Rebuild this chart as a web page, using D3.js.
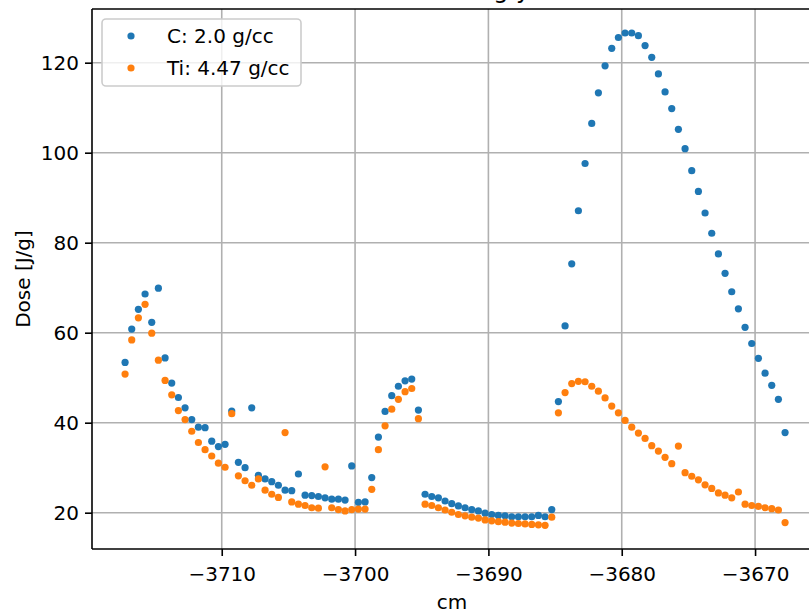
<!DOCTYPE html>
<html>
<head>
<meta charset="utf-8">
<script src="https://cdn.jsdelivr.net/npm/d3@7"></script>
<style>
  html, body { margin: 0; padding: 0; background: #fff; }
  svg { display: block; font-family: "DejaVu Sans", sans-serif; }
</style>
</head>
<body>
<svg id="chart" width="809" height="612"></svg>
<script>
// ---- data ----
const positions = [
  -3717.25,-3716.75,-3716.25,-3715.75,-3715.25,-3714.75,-3714.25,-3713.75,-3713.25,-3712.75,
  -3712.25,-3711.75,-3711.25,-3710.75,-3710.25,-3709.75,-3709.25,-3708.75,-3708.25,-3707.75,
  -3707.25,-3706.75,-3706.25,-3705.75,-3705.25,-3704.75,-3704.25,-3703.75,-3703.25,-3702.75,
  -3702.25,-3701.75,-3701.25,-3700.75,-3700.25,-3699.75,-3699.25,-3698.75,-3698.25,-3697.75,
  -3697.25,-3696.75,-3696.25,-3695.75,-3695.25,-3694.75,-3694.25,-3693.75,-3693.25,-3692.75,
  -3692.25,-3691.75,-3691.25,-3690.75,-3690.25,-3689.75,-3689.25,-3688.75,-3688.25,-3687.75,
  -3687.25,-3686.75,-3686.25,-3685.75,-3685.25,-3684.75,-3684.25,-3683.75,-3683.25,-3682.75,
  -3682.25,-3681.75,-3681.25,-3680.75,-3680.25,-3679.75,-3679.25,-3678.75,-3678.25,-3677.75,
  -3677.25,-3676.75,-3676.25,-3675.75,-3675.25,-3674.75,-3674.25,-3673.75,-3673.25,-3672.75,
  -3672.25,-3671.75,-3671.25,-3670.75,-3670.25,-3669.75,-3669.25,-3668.75,-3668.25,-3667.75
];
const doseC = [
  53.4,60.8,65.2,68.6,62.3,69.9,54.4,48.8,45.6,43.3,
  40.7,39.0,38.9,35.9,34.7,35.2,42.6,31.2,30.0,43.3,
  28.3,27.5,26.9,26.1,25.0,24.9,28.6,23.9,23.8,23.6,
  23.3,23.0,23.0,22.8,30.4,22.3,22.4,27.8,36.8,42.5,
  46.0,48.1,49.3,49.7,42.8,24.1,23.6,23.3,22.6,22.0,
  21.5,21.1,20.7,20.4,19.9,19.6,19.4,19.3,19.1,19.1,
  19.1,19.1,19.4,19.1,20.7,44.7,61.5,75.3,87.1,97.6,
  106.5,113.3,119.3,123.2,125.6,126.6,126.6,126.0,123.8,121.2,
  117.5,113.5,109.8,105.2,100.9,96.0,91.4,86.6,82.1,77.5,
  73.2,69.1,65.3,61.2,57.6,54.3,51.0,48.3,45.2,37.8
];
const doseTi = [
  50.8,58.4,63.3,66.3,59.9,53.9,49.4,46.2,42.7,40.7,
  38.1,35.6,34.0,32.6,31.0,30.1,42.0,28.2,27.1,26.1,
  27.5,25.0,24.1,23.4,37.8,22.4,21.9,21.6,21.1,21.0,
  30.2,21.1,20.7,20.4,20.7,20.8,20.8,25.2,34.0,39.3,
  43.0,45.2,46.9,47.6,40.9,21.9,21.6,21.1,20.6,20.1,
  19.6,19.3,19.0,18.8,18.4,18.2,18.0,17.9,17.7,17.6,
  17.5,17.4,17.3,17.2,19.0,42.2,46.7,48.7,49.2,49.1,
  48.1,47.0,45.5,43.7,42.2,40.5,39.0,37.7,36.5,34.9,
  33.7,32.3,30.9,34.8,28.9,28.1,27.3,26.2,25.4,24.4,
  23.9,23.3,24.6,21.9,21.6,21.4,21.1,20.9,20.6,17.8
];
const seriesNames = ["C: 2.0 g/cc", "Ti: 4.47 g/cc"];
const seriesColors = ["#1f77b4", "#ff7f0e"];
const xTicks = [-3710, -3700, -3690, -3680, -3670];
const yTicks = [20, 40, 60, 80, 100, 120];
const xDomain = [-3719.73, -3665.73];
const yDomain = [11.93, 131.93];
const titleText = "Dose along y";
const xLabel = "cm";
const yLabel = "Dose [J/g]";

// ---- layout ----
const plot = { left: 92, right: 812, top: 9, bottom: 549 };
const svg = d3.select("#chart");
const x = d3.scaleLinear().domain(xDomain).range([plot.left, plot.right]);
const y = d3.scaleLinear().domain(yDomain).range([plot.bottom, plot.top]);
const fontSize = 20;
const lw = 1.6;

// clip for data area
svg.append("defs").append("clipPath").attr("id", "clip")
  .append("rect").attr("x", plot.left).attr("y", plot.top)
  .attr("width", plot.right - plot.left).attr("height", plot.bottom - plot.top);

// grid
const grid = svg.append("g");
grid.selectAll("line.gx").data(xTicks).join("line")
  .attr("x1", d => x(d)).attr("x2", d => x(d))
  .attr("y1", plot.top).attr("y2", plot.bottom)
  .attr("stroke", "#b0b0b0").attr("stroke-width", lw);
grid.selectAll("line.gy").data(yTicks).join("line")
  .attr("y1", d => y(d)).attr("y2", d => y(d))
  .attr("x1", plot.left).attr("x2", plot.right)
  .attr("stroke", "#b0b0b0").attr("stroke-width", lw);

// points
const dataSets = [doseC, doseTi];
dataSets.forEach((vals, si) => {
  svg.append("g").attr("clip-path", "url(#clip)")
    .selectAll("circle").data(vals).join("circle")
    .attr("cx", (d, i) => x(positions[i]))
    .attr("cy", d => y(d))
    .attr("r", 3.6)
    .attr("fill", seriesColors[si]);
});

// axes
const xAxis = d3.axisBottom(x).tickValues(xTicks).tickSizeInner(7).tickSizeOuter(0).tickPadding(7)
  .tickFormat(d => d3.format("d")(d).replace("-", "\u2212"));
const gx = svg.append("g").attr("transform", `translate(0,${plot.bottom})`).call(xAxis);
gx.select(".domain").remove();
gx.selectAll(".tick line").attr("stroke", "#000").attr("stroke-width", lw);
gx.selectAll(".tick text").attr("font-size", fontSize).attr("fill", "#000")
  .attr("font-family", "DejaVu Sans").attr("dy", null).attr("y", 32);

const yAxis = d3.axisLeft(y).tickValues(yTicks).tickSizeInner(7).tickSizeOuter(0).tickPadding(7);
const gy = svg.append("g").attr("transform", `translate(${plot.left},0)`).call(yAxis);
gy.select(".domain").remove();
gy.selectAll(".tick line").attr("stroke", "#000").attr("stroke-width", lw);
gy.selectAll(".tick text").attr("font-size", fontSize).attr("fill", "#000")
  .attr("font-family", "DejaVu Sans").attr("dy", "0.36em").attr("x", -13);

// spines
const sp = svg.append("g").attr("stroke", "#000").attr("stroke-width", lw).attr("fill", "none");
sp.append("line").attr("x1", plot.left).attr("x2", plot.left).attr("y1", plot.top).attr("y2", plot.bottom);
sp.append("line").attr("x1", plot.left).attr("x2", plot.right).attr("y1", plot.bottom).attr("y2", plot.bottom);
sp.append("line").attr("x1", plot.left).attr("x2", plot.right).attr("y1", plot.top).attr("y2", plot.top);
sp.append("line").attr("x1", plot.right).attr("x2", plot.right).attr("y1", plot.top).attr("y2", plot.bottom);

// labels
const cx = (plot.left + plot.right) / 2;
svg.append("text").attr("x", cx).attr("y", 609).attr("text-anchor", "middle")
  .attr("font-size", fontSize).attr("fill", "#000").text(xLabel);
svg.append("text").attr("transform", `translate(30,${(plot.top + plot.bottom) / 2}) rotate(-90)`)
  .attr("text-anchor", "middle").attr("font-size", fontSize).attr("fill", "#000").text(yLabel);
svg.append("text").attr("x", cx).attr("y", -2).attr("text-anchor", "middle")
  .attr("font-size", 24).attr("fill", "#000").text(titleText);

// legend
const lg = svg.append("g");
lg.append("rect").attr("x", 102).attr("y", 19).attr("width", 199).attr("height", 67)
  .attr("rx", 4).attr("fill", "#fff").attr("fill-opacity", 0.8)
  .attr("stroke", "#cccccc").attr("stroke-width", 1.6);
seriesNames.forEach((name, i) => {
  const yy = 36 + i * 32;
  lg.append("circle").attr("cx", 131).attr("cy", yy).attr("r", 3.6).attr("fill", seriesColors[i]);
  lg.append("text").attr("x", 167).attr("y", yy).attr("dy", "0.36em")
    .attr("font-size", fontSize).attr("fill", "#000").text(name);
});
</script>
</body>
</html>
